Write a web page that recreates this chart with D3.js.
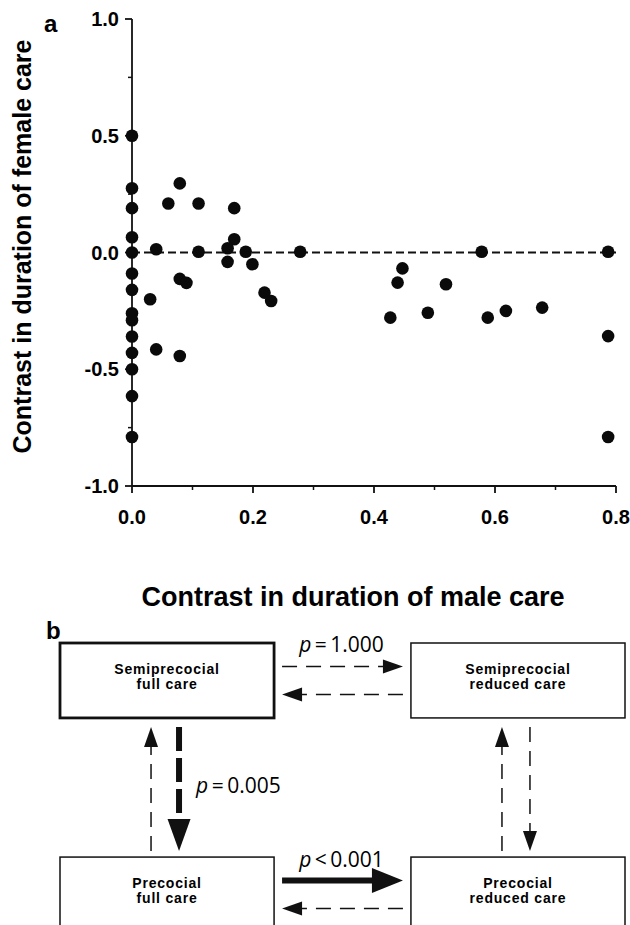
<!DOCTYPE html>
<html>
<head>
<meta charset="utf-8">
<script src="https://cdn.jsdelivr.net/npm/d3@7"></script>
<style>
  html, body { margin: 0; padding: 0; background: #fff; }
  svg { display: block; }
  .bold { font-family: "Liberation Sans", Arial, sans-serif; font-weight: bold; }
  .plab { font-family: "Open Sans", "DejaVu Sans", sans-serif; fill: #000; }
</style>
</head>
<body>
<div id="chart"></div>
<script>
// ---------- Data: panel a ----------
const maleContrast = [
  0, 0, 0, 0, 0, 0, 0, 0, 0, 0, 0, 0, 0, 0,
  0.079, 0.06, 0.11, 0.169, 0.169, 0.158, 0.04, 0.11, 0.188, 0.158, 0.199, 0.278,
  0.079, 0.09, 0.03, 0.219, 0.23, 0.04, 0.079,
  0.578, 0.787, 0.447, 0.439, 0.519, 0.427, 0.489, 0.588, 0.618, 0.678, 0.787, 0.787
];
const femaleContrast = [
  0.5, 0.275, 0.19, 0.065, 0.0, -0.09, -0.16, -0.26, -0.29, -0.36, -0.43, -0.50, -0.615, -0.79,
  0.296, 0.21, 0.21, 0.19, 0.057, 0.018, 0.014, 0.003, 0.003, -0.04, -0.05, 0.003,
  -0.113, -0.13, -0.2, -0.172, -0.208, -0.415, -0.443,
  0.003, 0.003, -0.068, -0.129, -0.136, -0.279, -0.258, -0.279, -0.25, -0.236, -0.358, -0.79
];
const xTicks = [0, 0.2, 0.4, 0.6, 0.8];
const xMinorTicks = [0.1, 0.3, 0.5, 0.7];
const yTicks = [-1, -0.5, 0, 0.5, 1];
const yMinorTicks = [-0.75, -0.25, 0.25, 0.75];

// ---------- Data: panel b ----------
const careCols = ["full care", "reduced care"];
const devRows = ["Semiprecocial", "Precocial"];
const transitions = [
  { from: [0, 0], to: [0, 1], label: "p = 1.000", kind: "thin" },
  { from: [0, 1], to: [0, 0], label: "", kind: "thin" },
  { from: [0, 0], to: [1, 0], label: "p = 0.005", kind: "thickDash" },
  { from: [1, 0], to: [0, 0], label: "", kind: "thin" },
  { from: [1, 0], to: [1, 1], label: "p < 0.001", kind: "thick" },
  { from: [1, 1], to: [1, 0], label: "", kind: "thin" },
  { from: [0, 1], to: [1, 1], label: "", kind: "thin" },
  { from: [1, 1], to: [0, 1], label: "", kind: "thin" }
];

// ---------- SVG ----------
const W = 630, H = 925;
const svg = d3.select("#chart").append("svg")
  .attr("width", W).attr("height", H);

// ---------- Panel a ----------
const x = d3.scaleLinear().domain([0, 0.8]).range([132, 616]);
const y = d3.scaleLinear().domain([-1, 1]).range([486, 19]);

const gA = svg.append("g");

// x axis
gA.append("line")
  .attr("x1", x(0)).attr("x2", x(0.8))
  .attr("y1", y(-1)).attr("y2", y(-1))
  .attr("stroke", "#111").attr("stroke-width", 1.8);
gA.selectAll(".xt").data(xTicks).enter().append("line")
  .attr("x1", d => x(d)).attr("x2", d => x(d))
  .attr("y1", y(-1)).attr("y2", y(-1) + 7)
  .attr("stroke", "#111").attr("stroke-width", 1.8);
gA.selectAll(".xm").data(xMinorTicks).enter().append("line")
  .attr("x1", d => x(d)).attr("x2", d => x(d))
  .attr("y1", y(-1)).attr("y2", y(-1) + 4)
  .attr("stroke", "#111").attr("stroke-width", 1.5);
gA.selectAll(".xl").data(xTicks).enter().append("text")
  .attr("class", "bold")
  .attr("x", d => x(d)).attr("y", y(-1) + 38)
  .attr("text-anchor", "middle")
  .attr("font-size", 20)
  .text(d => d.toFixed(1));

// y axis
gA.append("line")
  .attr("x1", x(0)).attr("x2", x(0))
  .attr("y1", y(-1)).attr("y2", y(1))
  .attr("stroke", "#111").attr("stroke-width", 1.8);
gA.selectAll(".yt").data(yTicks).enter().append("line")
  .attr("x1", x(0) - 7).attr("x2", x(0))
  .attr("y1", d => y(d)).attr("y2", d => y(d))
  .attr("stroke", "#111").attr("stroke-width", 1.8);
gA.selectAll(".ym").data(yMinorTicks).enter().append("line")
  .attr("x1", x(0) - 4).attr("x2", x(0))
  .attr("y1", d => y(d)).attr("y2", d => y(d))
  .attr("stroke", "#111").attr("stroke-width", 1.5);
gA.selectAll(".yl").data(yTicks).enter().append("text")
  .attr("class", "bold")
  .attr("x", x(0) - 13).attr("y", d => y(d) + 7)
  .attr("text-anchor", "end")
  .attr("font-size", 20)
  .text(d => d.toFixed(1));

// zero reference line
gA.append("line")
  .attr("x1", x(0)).attr("x2", x(0.8))
  .attr("y1", y(0)).attr("y2", y(0))
  .attr("stroke", "#111").attr("stroke-width", 1.8)
  .attr("stroke-dasharray", "8,4");

// points
gA.selectAll("circle").data(maleContrast).enter().append("circle")
  .attr("cx", d => x(d))
  .attr("cy", (d, i) => y(femaleContrast[i]))
  .attr("r", 6.3)
  .attr("fill", "#0a0a0a");

// titles
gA.append("text")
  .attr("class", "bold")
  .attr("transform", `translate(31,${y(0) - 6}) rotate(-90)`)
  .attr("text-anchor", "middle")
  .attr("font-size", 25)
  .text("Contrast in duration of female care");
gA.append("text")
  .attr("class", "bold")
  .attr("x", 353).attr("y", 606)
  .attr("text-anchor", "middle")
  .attr("font-size", 27)
  .text("Contrast in duration of male care");
gA.append("text")
  .attr("class", "bold")
  .attr("x", 44).attr("y", 32)
  .attr("font-size", 24)
  .text("a");

// ---------- Panel b ----------
const gB = svg.append("g");
gB.append("text")
  .attr("class", "bold")
  .attr("x", 46).attr("y", 639)
  .attr("font-size", 24)
  .text("b");

const bx = d3.scaleBand().domain(d3.range(careCols.length)).range([60, 625]).paddingInner(0.39);
const by = d3.scaleBand().domain(d3.range(devRows.length)).range([643, 932]).paddingInner(0.65);

const nodes = [];
devRows.forEach((r, ri) => careCols.forEach((c, ci) => nodes.push({ r: ri, c: ci, l1: r, l2: c })));

gB.selectAll("rect").data(nodes).enter().append("rect")
  .attr("x", d => bx(d.c)).attr("y", d => by(d.r))
  .attr("width", bx.bandwidth()).attr("height", by.bandwidth())
  .attr("fill", "none").attr("stroke", "#111")
  .attr("stroke-width", d => (d.r === 0 && d.c === 0) ? 2.8 : 1.5);

const nodeText = gB.selectAll(".nt").data(nodes).enter().append("text")
  .attr("class", "bold")
  .attr("text-anchor", "middle")
  .attr("font-size", 14)
  .attr("letter-spacing", 0.8);
nodeText.append("tspan")
  .attr("x", d => bx(d.c) + bx.bandwidth() / 2)
  .attr("y", d => by(d.r) + 31)
  .text(d => d.l1);
nodeText.append("tspan")
  .attr("x", d => bx(d.c) + bx.bandwidth() / 2)
  .attr("y", d => by(d.r) + 46)
  .text(d => d.l2);

const styles = {
  thin:      { w: 1.5, dash: "15,9", headL: 20, headW: 14 },
  thickDash: { w: 6,   dash: "24,7", headL: 32, headW: 23 },
  thick:     { w: 6,   dash: null,   headL: 31, headW: 25 }
};

transitions.forEach(t => {
  const s = styles[t.kind];
  const [r0, c0] = t.from, [r1, c1] = t.to;
  let x0, y0, x1, y1, lx, ly, anchor = "start";
  if (r0 === r1) {
    // horizontal
    const dir = c1 > c0 ? 1 : -1;
    const cy = by(r0) + by.bandwidth() / 2 + (dir > 0 ? -14 : 14);
    const leftEdge = bx(0) + bx.bandwidth() + 8, rightEdge = bx(1) - 8;
    x0 = dir > 0 ? leftEdge : rightEdge;
    x1 = dir > 0 ? rightEdge : leftEdge;
    y0 = y1 = cy;
    lx = (leftEdge + rightEdge) / 2 - 1; ly = cy - 14; anchor = "middle";
  } else {
    const dir = r1 > r0 ? 1 : -1;
    const cx = bx(c0) + bx.bandwidth() / 2 + (dir > 0 ? 12 : -16);
    const topEdge = by(0) + by.bandwidth() + 9, botEdge = by(1) - 6;
    y0 = dir > 0 ? topEdge : botEdge;
    y1 = dir > 0 ? botEdge : topEdge;
    x0 = x1 = cx;
    lx = cx + 17; ly = (topEdge + botEdge) / 2 + 4;
  }
  const len = Math.hypot(x1 - x0, y1 - y0);
  const ux = (x1 - x0) / len, uy = (y1 - y0) / len;
  const bxp = x1 - ux * s.headL, byp = y1 - uy * s.headL;
  gB.append("line")
    .attr("x1", x0).attr("y1", y0)
    .attr("x2", bxp + ux * 1).attr("y2", byp + uy * 1)
    .attr("stroke", "#111").attr("stroke-width", s.w)
    .attr("stroke-dasharray", s.dash);
  const px = -uy, py = ux;
  gB.append("path")
    .attr("d", d3.line()([
      [x1, y1],
      [bxp + px * s.headW / 2, byp + py * s.headW / 2],
      [bxp - px * s.headW / 2, byp - py * s.headW / 2]
    ]) + "Z")
    .attr("fill", "#111");
  if (t.label) {
    const parts = t.label.split(" ");
    const txt = gB.append("text")
      .attr("class", "plab")
      .attr("x", lx).attr("y", ly)
      .attr("text-anchor", anchor)
      .attr("font-size", 21);
    txt.append("tspan").attr("font-style", "italic").text(parts[0]);
    txt.append("tspan").text("\u2009" + parts[1] + "\u2009" + parts[2]);
  }
});
</script>
</body>
</html>
